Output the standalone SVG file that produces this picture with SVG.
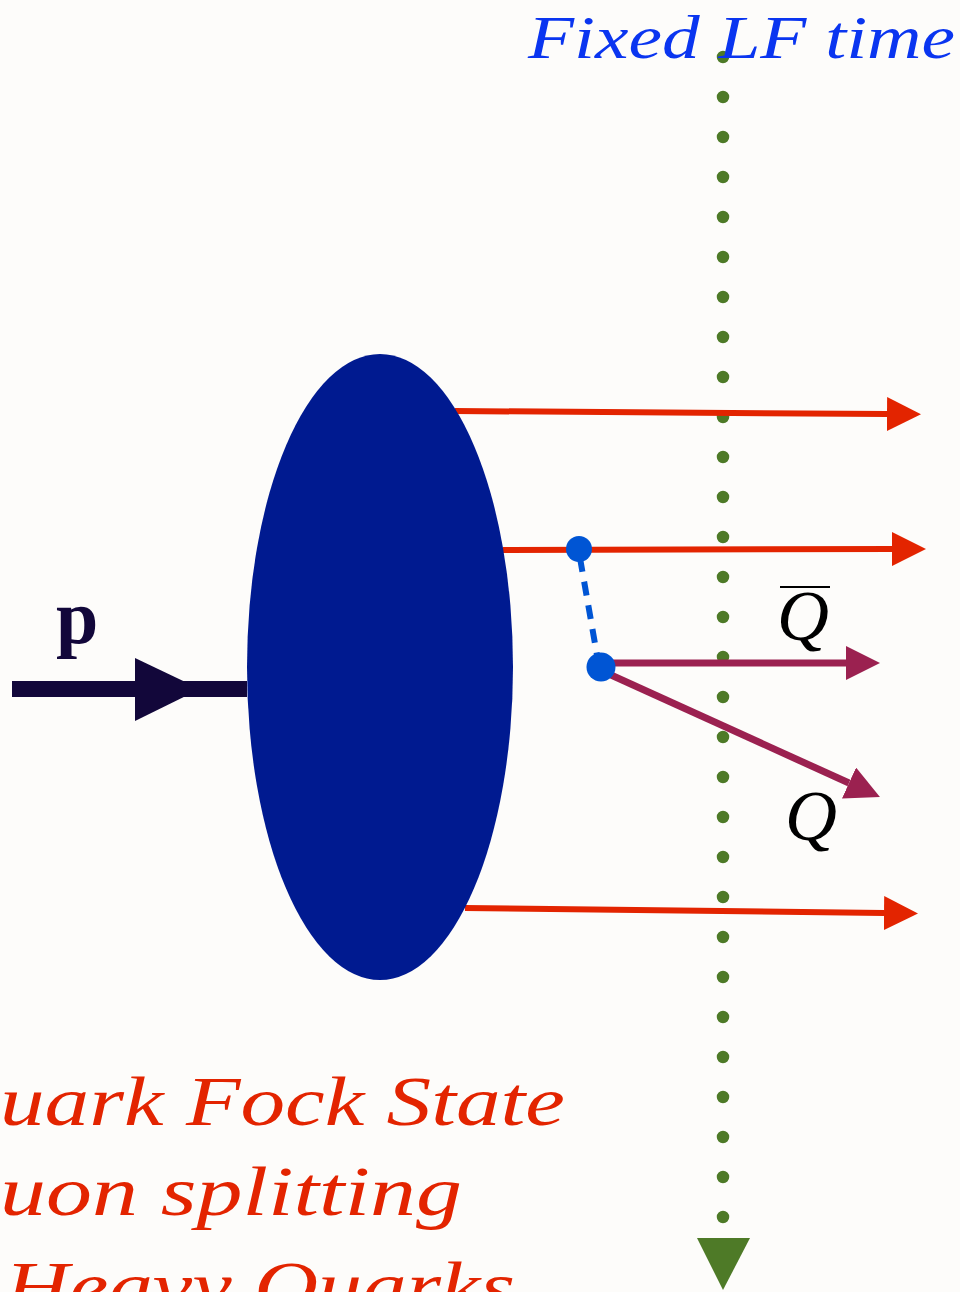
<svg xmlns="http://www.w3.org/2000/svg" width="960" height="1292" viewBox="0 0 960 1292">
<style>
.red{stroke:#e32400;stroke-width:6;fill:none}
.pur{stroke:#9b2150;stroke-width:7;fill:none}
.script{font-family:"Liberation Serif",serif;font-style:italic}
.math{font-family:"Liberation Serif",serif;font-style:italic;fill:#000}
</style>
<defs>
<marker id="ahRed" viewBox="0 0 34 34" refX="0" refY="17" markerWidth="34" markerHeight="34" markerUnits="userSpaceOnUse" orient="auto"><path d="M0,0 L34,17 L0,34 Z" fill="#e32400"/></marker>
<marker id="ahPur" viewBox="0 0 34 34" refX="0" refY="17" markerWidth="34" markerHeight="34" markerUnits="userSpaceOnUse" orient="auto"><path d="M0,0 L34,17 L0,34 Z" fill="#9b2150"/></marker>
</defs>
<rect width="960" height="1292" fill="#fdfcfa"/>
<g id="lf-time">
<line x1="723" y1="57" x2="723" y2="1219" stroke="#4e7a27" stroke-width="12.5" stroke-linecap="round" stroke-dasharray="0 40"/>
<path d="M697,1238 L750,1238 L723,1290 Z" fill="#4e7a27"/>
<text x="528" y="58" class="script" font-size="62" fill="#0a35f0" textLength="427" lengthAdjust="spacingAndGlyphs">Fixed LF time</text>
</g>
<g id="connectors">
<line class="red" x1="455" y1="411" x2="887" y2="414" marker-end="url(#ahRed)"/>
<line class="red" x1="503" y1="550" x2="892" y2="549" marker-end="url(#ahRed)"/>
<line class="red" x1="465" y1="908" x2="884" y2="913" marker-end="url(#ahRed)"/>
<line class="pur" x1="600" y1="663" x2="846" y2="663" marker-end="url(#ahPur)"/>
<line class="pur" x1="600" y1="670" x2="849" y2="783" marker-end="url(#ahPur)"/>
<line x1="580" y1="558" x2="597" y2="655" stroke="#0055d4" stroke-width="6" stroke-dasharray="14 10"/>
<line x1="12" y1="689" x2="247" y2="689" stroke="#12073a" stroke-width="16"/>
<path d="M135,658 L200,689 L135,721 Z" fill="#12073a"/>
</g>
<g id="proton">
<ellipse cx="380" cy="667" rx="133" ry="313" fill="#001a90"/>
</g>
<g id="vertex1"><circle cx="579" cy="549" r="13" fill="#0055d4"/></g>
<g id="vertex2"><circle cx="601" cy="667" r="14.5" fill="#0055d4"/></g>
<g id="label-p"><text x="56" y="643" font-family="Liberation Serif,serif" font-weight="bold" font-size="76" fill="#12073a">p</text></g>
<g id="label-Qbar">
<line x1="780" y1="587" x2="830" y2="587" stroke="#000" stroke-width="2"/>
<text x="777" y="640" class="math" font-size="72">Q</text>
</g>
<g id="label-Q"><text x="785" y="840" class="math" font-size="72">Q</text></g>
<g id="caption" class="script" font-size="70" fill="#e32400">
<text x="0" y="1125" textLength="565" lengthAdjust="spacingAndGlyphs">uark Fock State</text>
<text x="0" y="1215" textLength="462" lengthAdjust="spacingAndGlyphs">uon splitting</text>
<text x="5" y="1310" textLength="510" lengthAdjust="spacingAndGlyphs">Heavy Quarks</text>
</g>
</svg>
